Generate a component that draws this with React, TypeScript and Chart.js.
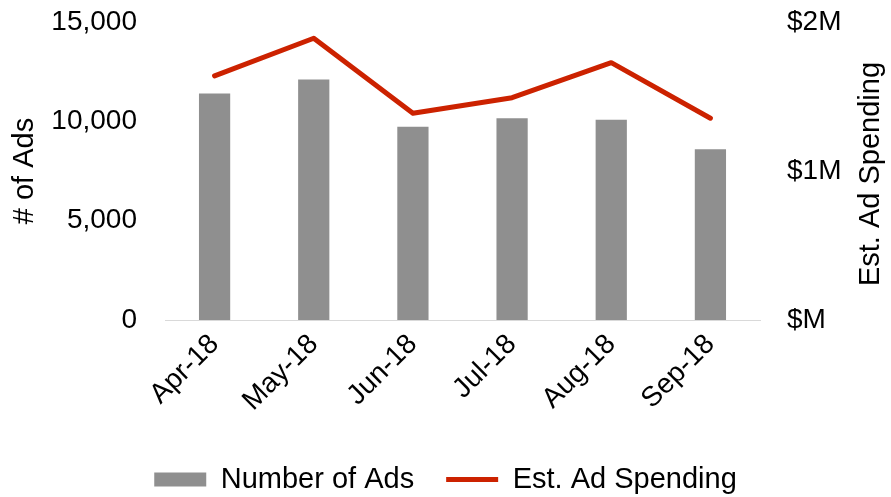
import { useEffect, useRef } from "react";
import { Chart, registerables } from "chart.js";

Chart.register(...registerables);

const categories = ["Apr-18", "May-18", "Jun-18", "Jul-18", "Aug-18", "Sep-18"];
const numberOfAds = [11400, 12100, 9730, 10150, 10080, 8600];
const adSpending = [1638000, 1891000, 1387000, 1492000, 1727000, 1354000];
const leftTicks = [0, 5000, 10000, 15000];
const leftTickLabels = ["0", "5,000", "10,000", "15,000"];
const rightTicks = [0, 1000000, 2000000];
const rightTickLabels = ["$M", "$1M", "$2M"];

const FONT = '"Liberation Sans", Arial, sans-serif';
const W = 891;
const H = 504;

const rightTitlePlugin = {
  id: "rightTitle",
  afterDraw(chart: any) {
    const { ctx, chartArea } = chart;
    ctx.save();
    ctx.font = `29px ${FONT}`;
    ctx.fillStyle = "#000";
    ctx.textAlign = "center";
    ctx.textBaseline = "middle";
    ctx.translate(chart.width - 20, (chartArea.top + chartArea.bottom) / 2 + 3);
    ctx.rotate(-Math.PI / 2);
    ctx.fillText("Est. Ad Spending", 0, 0);
    ctx.restore();
  },
};

export default function App() {
  const ref = useRef<HTMLCanvasElement>(null);

  useEffect(() => {
    if (!ref.current) return;
    const chart = new Chart(ref.current, {
      type: "bar",
      data: {
        labels: categories,
        datasets: [
          {
            type: "line",
            label: "Est. Ad Spending",
            data: adSpending,
            yAxisID: "y1",
            borderColor: "#cc2200",
            backgroundColor: "#cc2200",
            borderWidth: 5,
            borderCapStyle: "round",
            borderJoinStyle: "round",
            pointRadius: 0,
            pointStyle: "line",
            tension: 0,
            order: 0,
          } as any,
          {
            type: "bar",
            label: "Number of Ads",
            data: numberOfAds,
            yAxisID: "y",
            backgroundColor: "#8f8f8f",
            borderWidth: 0,
            pointStyle: "rect",
            barPercentage: 0.315,
            categoryPercentage: 1,
            order: 1,
          } as any,
        ],
      },
      options: {
        responsive: false,
        animation: false,
        events: [],
        layout: { padding: { top: 22, left: 0, right: 0, bottom: 0 } },
        plugins: {
          tooltip: { enabled: false },
          legend: {
            position: "bottom",
            reverse: true,
            labels: {
              usePointStyle: true,
              pointStyleWidth: 52,
              boxHeight: 14,
              padding: 32,
              color: "#000",
              font: { family: FONT, size: 29 },
            },
          },
        },
        scales: {
          x: {
            grid: { display: false },
            border: { display: true, color: "#d9d9d9", width: 1 },
            ticks: {
              color: "#000",
              font: { family: FONT, size: 28 },
              maxRotation: 45,
              minRotation: 45,
              padding: 0,
              autoSkip: false,
            },
            afterFit: (s: any) => {
              s.height = 113;
            },
          },
          y: {
            position: "left",
            min: 0,
            max: 15000,
            grid: { display: false },
            border: { display: false },
            afterBuildTicks: (s: any) => {
              s.ticks = leftTicks.map((v) => ({ value: v }));
            },
            ticks: {
              color: "#000",
              font: { family: FONT, size: 28 },
              padding: 20,
              callback: (v: any) => {
                const i = leftTicks.indexOf(Number(v));
                return i >= 0 ? leftTickLabels[i] : "";
              },
            },
            title: {
              display: true,
              text: "# of Ads",
              color: "#000",
              font: { family: FONT, size: 29 },
              padding: { top: 8, bottom: 0 },
            },
            afterFit: (s: any) => {
              s.width = 165;
              s.paddingTop = 0;
              s.paddingBottom = 0;
            },
          },
          y1: {
            position: "right",
            min: 0,
            max: 2000000,
            grid: { display: false },
            border: { display: false },
            afterBuildTicks: (s: any) => {
              s.ticks = rightTicks.map((v) => ({ value: v }));
            },
            ticks: {
              color: "#000",
              font: { family: FONT, size: 28 },
              padding: 19,
              callback: (v: any) => {
                const i = rightTicks.indexOf(Number(v));
                return i >= 0 ? rightTickLabels[i] : "";
              },
            },
            afterFit: (s: any) => {
              s.width = 131;
              s.paddingTop = 0;
              s.paddingBottom = 0;
            },
          },
        },
      },
      plugins: [rightTitlePlugin],
    });
    return () => chart.destroy();
  }, []);

  return (
    <div style={{ position: "absolute", left: 0, top: 0, width: W, height: H, background: "#fff" }}>
      <canvas ref={ref} width={W} height={H} style={{ display: "block" }} />
    </div>
  );
}
